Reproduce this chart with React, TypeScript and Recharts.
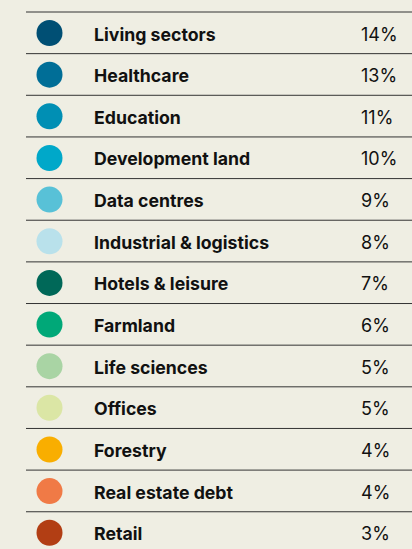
import { BarChart, Bar, XAxis, YAxis } from 'recharts';

// Allocation by sector
const sectors = [
  'Living sectors',
  'Healthcare',
  'Education',
  'Development land',
  'Data centres',
  'Industrial & logistics',
  'Hotels & leisure',
  'Farmland',
  'Life sciences',
  'Offices',
  'Forestry',
  'Real estate debt',
  'Retail',
];
const shares = [14, 13, 11, 10, 9, 8, 7, 6, 5, 5, 4, 4, 3];
const colors = [
  '#004f74',
  '#006e97',
  '#008fb4',
  '#00a8c9',
  '#58c1d7',
  '#b9e1eb',
  '#006858',
  '#00a878',
  '#a9d4a4',
  '#dbe6a5',
  '#f9ae00',
  '#f07a46',
  '#b23e14',
];

const data = sectors.map((name, i) => ({ name, value: shares[i], color: colors[i] }));

const FONT = 'Inter, "Noto Sans", Roboto, sans-serif';

// each bar band becomes one table row
function Row(props: any) {
  const { x, y, height, payload } = props;
  const cy = y + height / 2;
  return (
    <g>
      <line x1={x} x2={412} y1={y} y2={y} stroke="#333" strokeWidth={1} />
      <circle cx={x + 23.5} cy={cy} r={13} fill={payload.color} />
      <text
        x={x + 68}
        y={cy + 1}
        dominantBaseline="central"
        fontFamily={FONT}
        fontWeight={700}
        fontSize={17.7}
        fill="#111"
      >
        {payload.name}
      </text>
      <text
        x={x + 335}
        y={cy + 1}
        dominantBaseline="central"
        fontFamily={FONT}
        fontSize={18}
        fill="#111"
      >
        {payload.value}%
      </text>
    </g>
  );
}

export default function App() {
  return (
    <div
      style={{
        position: 'absolute',
        top: 0,
        left: 0,
        width: 412,
        height: 549,
        overflow: 'hidden',
        background: '#efeee3',
      }}
    >
      <BarChart
        width={412}
        height={554}
        data={data}
        layout="vertical"
        margin={{ top: 12, right: 0, left: 26, bottom: 0.6 }}
        barCategoryGap={0}
      >
        <XAxis type="number" hide domain={[0, 'dataMax']} />
        <YAxis type="category" dataKey="name" hide />
        <Bar dataKey="value" shape={<Row />} isAnimationActive={false} />
      </BarChart>
    </div>
  );
}
